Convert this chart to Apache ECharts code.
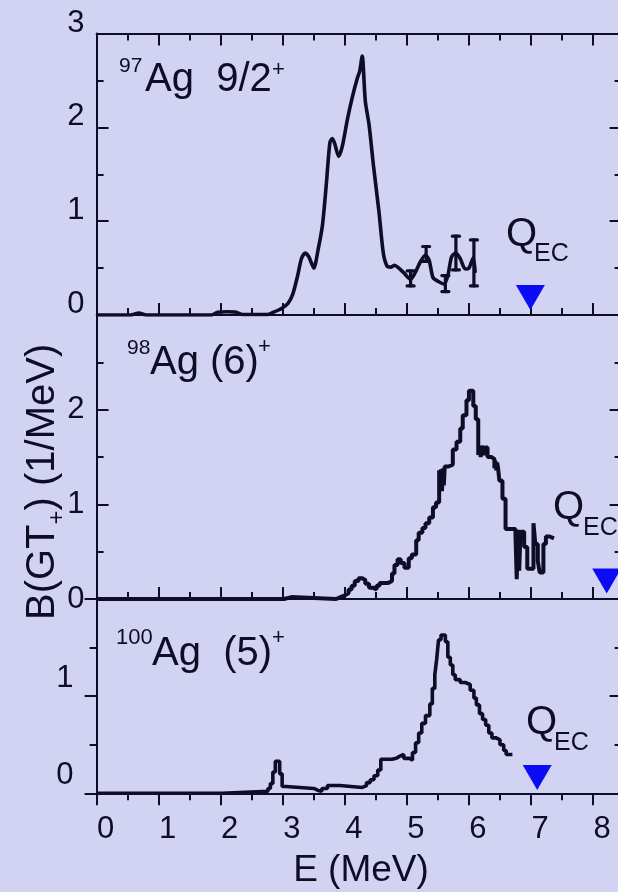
<!DOCTYPE html>
<html>
<head>
<meta charset="utf-8">
<script src="https://cdn.jsdelivr.net/npm/echarts@6/dist/echarts.min.js"></script>
<style>
  html, body { margin: 0; padding: 0; background: #d2d2f2; }
  #chart { width: 618px; height: 892px; }
</style>
</head>
<body>
<div id="chart"></div>
<script>
// B(GT+) strength distributions of the Ag isotopes, stacked in three panels.

// 97Ag 9/2+ : smoothed strength curve [E (MeV), B(GT+) (1/MeV)]
const ag97 = [
  [0, 0], [0.55, 0], [0.68, 0.02], [0.8, 0], [1.85, 0], [1.95, 0.03], [2.1, 0.035],
  [2.25, 0.03], [2.35, 0.005], [2.75, 0.005], [2.85, 0.03], [2.98, 0.07], [3.08, 0.12],
  [3.16, 0.22], [3.24, 0.42], [3.3, 0.6], [3.36, 0.66], [3.42, 0.62], [3.5, 0.5],
  [3.57, 0.7], [3.64, 0.96], [3.7, 1.38], [3.76, 1.84], [3.8, 1.88], [3.84, 1.82],
  [3.9, 1.69], [3.96, 1.8], [4.04, 2.08], [4.12, 2.32], [4.2, 2.52], [4.24, 2.6],
  [4.28, 2.76], [4.33, 2.28], [4.39, 2.03], [4.46, 1.6], [4.55, 1.1], [4.62, 0.66],
  [4.68, 0.52], [4.74, 0.51], [4.8, 0.53], [4.87, 0.5], [4.95, 0.45], [5.06, 0.38],
  [5.14, 0.46], [5.22, 0.57], [5.3, 0.64], [5.36, 0.58], [5.42, 0.4], [5.5, 0.36],
  [5.6, 0.33], [5.66, 0.42], [5.72, 0.62], [5.79, 0.66], [5.86, 0.6], [5.94, 0.49],
  [6.0, 0.5], [6.07, 0.61], [6.1, 0.45]
];
// 97Ag uncertainties [E, lower, upper]
const ag97Err = [
  [5.06, 0.31, 0.47], [5.31, 0.57, 0.73], [5.62, 0.25, 0.42], [5.79, 0.48, 0.84], [6.08, 0.31, 0.8]
];

// 98Ag (6)+ : binned strength, each pair starts a new level [E, B(GT+)]
const ag98 = [
  [0, 0], [3.02, 0.02], [3.14, 0], [3.86, 0.02], [3.93, 0.04], [4.0, 0.06], [4.06, 0.1],
  [4.11, 0.14], [4.16, 0.19], [4.22, 0.22], [4.28, 0.2], [4.33, 0.16], [4.39, 0.12],
  [4.45, 0.1], [4.51, 0.14], [4.56, 0.17], [4.7, 0.19], [4.76, 0.27], [4.8, 0.36],
  [4.85, 0.42], [4.9, 0.38], [4.96, 0.33], [5.03, 0.43], [5.08, 0.47], [5.15, 0.62],
  [5.19, 0.7], [5.25, 0.75], [5.3, 0.8], [5.36, 0.86], [5.42, 0.97], [5.47, 1.02],
  [5.52, 1.36], [5.535, 1.16], [5.55, 1.37], [5.565, 1.14], [5.58, 1.38], [5.595, 1.2],
  [5.61, 1.4], [5.67, 1.42], [5.74, 1.58], [5.8, 1.66], [5.86, 1.8], [5.9, 1.94],
  [5.96, 2.1], [6.0, 2.2], [6.07, 2.04], [6.11, 1.9], [6.15, 1.52], [6.17, 1.62],
  [6.19, 1.5], [6.21, 1.62], [6.235, 1.52], [6.26, 1.6], [6.3, 1.5], [6.36, 1.48],
  [6.41, 1.38], [6.425, 1.46], [6.44, 1.36], [6.455, 1.44], [6.47, 1.38], [6.49, 1.25],
  [6.54, 1.06], [6.59, 0.74], [6.75, 0.68], [6.77, 0.21], [6.79, 0.73], [6.81, 0.3],
  [6.83, 0.71], [6.89, 0.55], [6.94, 0.32], [7.04, 0.8], [7.07, 0.58], [7.11, 0.4],
  [7.14, 0.28], [7.2, 0.58], [7.24, 0.66], [7.3, 0.64], [7.37, 0.64]
];

// 100Ag (5)+ : binned strength [E, B(GT+)]
const ag100 = [
  [0, 0], [2.02, 0.02], [2.76, 0.05], [2.8, 0.1], [2.84, 0.22], [2.88, 0.33], [2.95, 0.2],
  [2.99, 0.07], [3.05, 0.05], [3.5, 0.03], [3.57, 0.02], [3.63, 0.05], [3.72, 0.08],
  [3.92, 0.06], [4.28, 0.08], [4.35, 0.11], [4.41, 0.14], [4.47, 0.18], [4.53, 0.24],
  [4.58, 0.35], [4.76, 0.36], [4.83, 0.38], [4.88, 0.4], [4.95, 0.36], [5.04, 0.34],
  [5.09, 0.42], [5.14, 0.52], [5.19, 0.62], [5.24, 0.72], [5.3, 0.8], [5.37, 0.92],
  [5.41, 1.08], [5.45, 1.22], [5.48, 1.38], [5.51, 1.58], [5.55, 1.63], [5.62, 1.56],
  [5.66, 1.4], [5.7, 1.32], [5.74, 1.22], [5.78, 1.17], [5.86, 1.14], [5.94, 1.12],
  [6.02, 1.06], [6.08, 0.98], [6.12, 0.91], [6.17, 0.82], [6.22, 0.76], [6.27, 0.7],
  [6.32, 0.62], [6.37, 0.57], [6.44, 0.55], [6.5, 0.5], [6.56, 0.44], [6.6, 0.4], [6.7, 0.4]
];

// Q_EC values (MeV) for 97Ag, 98Ag, 100Ag
const qEC = [6.99, 8.22, 7.1];

// y ranges of the three panels
const yMax = [3, 3, 2];

const INK = '#0d0d26';
const BLUE = '#0c0cf4';
const FONT = '"Liberation Sans", Arial, Helvetica, sans-serif';

// panel geometry (px)
const X_LEFT = 96.6;
const X_WIDTH = 525;
const X_MAX = 8.46;
const panelBox = [
  { top: 33.5, height: 281.5 },
  { top: 315, height: 284 },
  { top: 599, height: 194.3 }
];
const markerY = [0.187, 0.19, 0.163];

const lineStyle = { color: INK, width: 2 };
function ticks(inside) {
  return {
    axisTick: { show: true, inside: inside, length: 12, lineStyle: { color: INK, width: 2 } },
    minorTick: { show: true, splitNumber: 2, length: 7, lineStyle: { color: INK, width: 2 } }
  };
}

const grid = panelBox.map(b => ({
  left: X_LEFT, top: b.top, width: X_WIDTH, height: b.height,
  containLabel: false, outerBoundsMode: 'none'
}));

function xAx(gridIndex, position, inside, labels) {
  return Object.assign({
    type: 'value', gridIndex, position, min: 0, max: X_MAX, interval: 1,
    axisLine: { show: true, onZero: false, lineStyle },
    splitLine: { show: false },
    axisLabel: labels ? {
      show: true, color: INK, fontFamily: FONT, fontSize: 31, margin: 21,
      padding: [0, 0, 0, 18], showMaxLabel: false, hideOverlap: false
    } : { show: false }
  }, ticks(inside));
}

function yAx(gridIndex, position, inside, labelOpt) {
  return Object.assign({
    type: 'value', gridIndex, position, min: 0, max: yMax[gridIndex], interval: 1,
    axisLine: { show: true, onZero: false, lineStyle },
    splitLine: { show: false },
    axisLabel: labelOpt ? Object.assign({
      show: true, color: INK, fontFamily: FONT, fontSize: 31, hideOverlap: false
    }, labelOpt) : { show: false }
  }, ticks(inside));
}

const xAxis = [
  xAx(0, 'bottom', true, false),
  xAx(0, 'top', true, false),
  xAx(1, 'bottom', true, false),
  xAx(2, 'bottom', false, true)
];

// labels of the top and bottom panels sit above their ticks
const yAxis = [
  yAx(0, 'left', true, { margin: 12, verticalAlign: 'bottom', lineHeight: 21 }),
  yAx(0, 'right', true, null),
  yAx(1, 'left', true, { margin: 12, showMaxLabel: false }),
  yAx(1, 'right', true, null),
  yAx(2, 'left', false, { margin: 23, verticalAlign: 'bottom', lineHeight: 35, showMaxLabel: false }),
  yAx(2, 'right', true, null)
];

function marker(i, xIdx, yIdx) {
  return {
    type: 'scatter', xAxisIndex: xIdx, yAxisIndex: yIdx, clip: false,
    symbol: 'triangle', symbolRotate: 180, symbolSize: [29, 25],
    itemStyle: { color: BLUE, opacity: 1 },
    emphasis: { disabled: true },
    data: [[qEC[i], markerY[i]]], z: 5
  };
}

const series = [
  {
    type: 'line', xAxisIndex: 0, yAxisIndex: 0, data: ag97, smooth: 0.25,
    showSymbol: false, lineStyle: { color: INK, width: 3.6 }, z: 4
  },
  {
    type: 'custom', xAxisIndex: 0, yAxisIndex: 0, data: ag97Err, z: 4,
    encode: { x: 0, y: [1, 2] },
    renderItem: function (params, api) {
      const x = api.value(0);
      const lo = api.coord([x, api.value(1)]);
      const hi = api.coord([x, api.value(2)]);
      const w = 3.5;
      const st = { stroke: INK, lineWidth: 3.2, lineCap: 'round' };
      return {
        type: 'group',
        children: [
          { type: 'line', shape: { x1: lo[0], y1: lo[1], x2: hi[0], y2: hi[1] }, style: st },
          { type: 'line', shape: { x1: lo[0] - w, y1: lo[1], x2: lo[0] + w, y2: lo[1] }, style: st },
          { type: 'line', shape: { x1: hi[0] - w, y1: hi[1], x2: hi[0] + w, y2: hi[1] }, style: st }
        ]
      };
    }
  },
  marker(0, 0, 0),
  {
    type: 'line', xAxisIndex: 2, yAxisIndex: 2, data: ag98, step: 'end',
    showSymbol: false, lineStyle: { color: INK, width: 4 }, z: 4
  },
  marker(1, 2, 2),
  {
    type: 'line', xAxisIndex: 3, yAxisIndex: 4, data: ag100, step: 'end',
    showSymbol: false, lineStyle: { color: INK, width: 3.6 }, z: 4
  },
  marker(2, 3, 4)
];

// text helper: (x, y) is the centre line of the text box
function txt(x, y, text, size, extra) {
  return {
    type: 'text', x, y, z: 10,
    style: Object.assign({
      text, fill: INK, font: size + 'px ' + FONT, align: 'left', verticalAlign: 'middle'
    }, extra || {})
  };
}

const graphic = [
  // panel labels
  txt(119, 65.8, '97', 21), txt(145, 80.1, 'Ag  9/2', 40), txt(272, 70, '+', 22),
  txt(127, 347.8, '98', 21), txt(150, 363.1, 'Ag (6)', 40), txt(258, 346.5, '+', 22),
  txt(116, 638, '100', 22), txt(152, 654.1, 'Ag  (5)', 40), txt(272, 638, '+', 22),
  // Q_EC labels
  txt(506, 234.7, 'Q', 40), txt(534, 254.3, 'EC', 25),
  txt(553, 507.7, 'Q', 40), txt(583, 528.3, 'EC', 25),
  txt(526, 722.7, 'Q', 40), txt(554, 743.3, 'EC', 25),
  // axis titles
  txt(361, 870.5, 'E (MeV)', 37, { align: 'center' }),
  {
    type: 'group', x: 42.8, y: 620, rotation: Math.PI / 2, z: 10,
    children: [
      txt(0, 0, 'B(GT', 40),
      txt(95.6, 15, '+', 24),
      txt(109.6, 0, ') (1/MeV)', 40)
    ]
  }
];

const chart = echarts.init(document.getElementById('chart'), null, { renderer: 'canvas' });
chart.setOption({
  backgroundColor: '#d2d2f2',
  animation: false,
  grid, xAxis, yAxis, series, graphic
});
</script>
</body>
</html>
